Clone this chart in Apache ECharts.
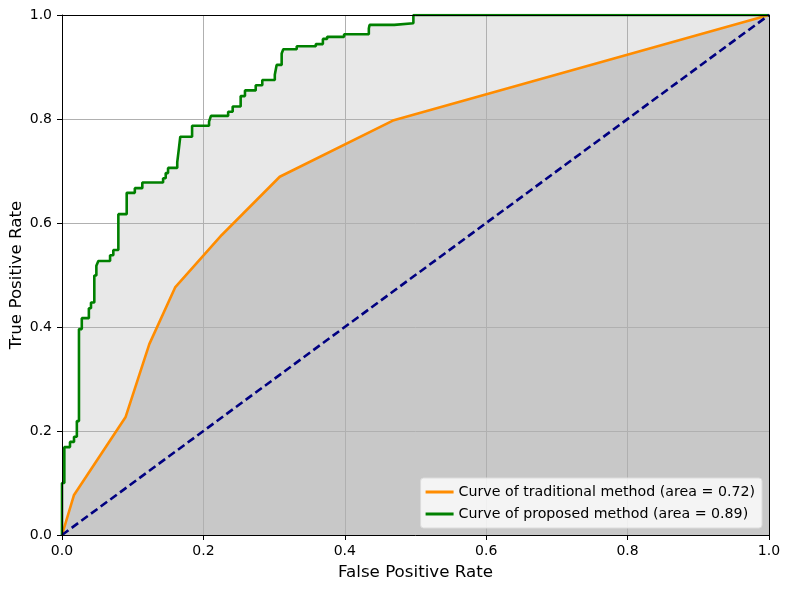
<!DOCTYPE html>
<html>
<head>
<meta charset="utf-8">
<script src="https://cdn.jsdelivr.net/npm/echarts@6/dist/echarts.min.js"></script>
<style>
  html, body { margin: 0; padding: 0; background: #fff; }
  #chart { width: 790px; height: 589px; }
</style>
</head>
<body>
<div id="chart"></div>
<script>
// ROC curves, points as [fpr, tpr]
var traditionalName = 'Curve of traditional method (area = 0.72)';
var proposedName = 'Curve of proposed method (area = 0.89)';

var traditionalRoc = [
    [0, 0], [0.017, 0.077], [0.09, 0.227], [0.1235, 0.367], [0.16, 0.476],
    [0.226, 0.577], [0.308, 0.689], [0.468, 0.797], [1, 1]
];

// each point is the top of a vertical jump (drawn with step: 'end')
var proposedRoc = [
    [0, 0], [0, 0.1], [0.0033, 0.169], [0.0113, 0.179], [0.017, 0.189],
    [0.021, 0.219], [0.024, 0.396], [0.028, 0.417], [0.038, 0.436], [0.041, 0.447],
    [0.0457, 0.499], [0.0486, 0.518], [0.0514, 0.527], [0.068, 0.538], [0.0726, 0.548],
    [0.0797, 0.617], [0.0915, 0.658], [0.103, 0.667], [0.1136, 0.678], [0.143, 0.686],
    [0.1467, 0.696], [0.150, 0.706], [0.163, 0.717], [0.1655, 0.745], [0.1673, 0.766],
    [0.184, 0.787], [0.208, 0.795], [0.2107, 0.806], [0.235, 0.814], [0.2414, 0.824],
    [0.2527, 0.844], [0.2588, 0.855], [0.274, 0.865], [0.2833, 0.875], [0.301, 0.885],
    [0.3036, 0.904], [0.3107, 0.926], [0.313, 0.934], [0.332, 0.940], [0.359, 0.944],
    [0.369, 0.954], [0.375, 0.958], [0.399, 0.963], [0.434, 0.974], [0.435, 0.981],
    [0.470, 0.984], [0.497, 1.0], [1.0, 1.0]
];

var chanceLine = [[0, 0], [1, 1]];

var FONT = 'DejaVu Sans';

function fmt(v) {
    return v.toFixed(1);
}

var chart = echarts.init(document.getElementById('chart'));

// axis with labels + black spine, drawn above everything
function mainAxis(pos, name, gap) {
    return {
        type: 'value',
        position: pos,
        min: 0,
        max: 1,
        interval: 0.2,
        z: 10,
        name: name,
        nameLocation: 'middle',
        nameGap: gap,
        nameMoveOverlap: false,
        nameTextStyle: { fontFamily: FONT, fontSize: 16.7, color: '#000' },
        axisLine: { show: true, onZero: false, lineStyle: { color: '#000', width: 1 } },
        axisTick: { show: true, length: 5, lineStyle: { color: '#000', width: 1 } },
        axisLabel: {
            show: true,
            margin: pos == 'bottom' ? 9 : 10,
            fontFamily: FONT,
            fontSize: 14,
            color: '#000',
            formatter: fmt
        },
        splitLine: { show: false }
    };
}

// plain spine (top / right)
function borderAxis(pos) {
    return {
        type: 'value',
        position: pos,
        min: 0,
        max: 1,
        interval: 0.2,
        z: 10,
        axisLine: { show: true, onZero: false, lineStyle: { color: '#000', width: 1 } },
        axisTick: { show: false },
        axisLabel: { show: false },
        splitLine: { show: false }
    };
}

// grid lines only: above the fills, below the curves
function gridAxis(pos) {
    return {
        type: 'value',
        position: pos,
        min: 0,
        max: 1,
        interval: 0.2,
        z: 2,
        axisLine: { show: false },
        axisTick: { show: false },
        axisLabel: { show: false },
        splitLine: { show: true, lineStyle: { color: '#b0b0b0', width: 1 } }
    };
}

function fillSeries(data, step, color) {
    return {
        name: 'fill',
        type: 'line',
        step: step,
        data: data,
        showSymbol: false,
        silent: true,
        z: 1,
        lineStyle: { width: 0, opacity: 0 },
        areaStyle: { color: color, opacity: 1, origin: 'start' }
    };
}

function curveSeries(name, data, step, color, dash) {
    return {
        name: name,
        type: 'line',
        step: step,
        data: data,
        showSymbol: false,
        z: 5,
        lineStyle: { color: color, width: 2.6, type: dash },
        itemStyle: { color: color }
    };
}

var op = {
    animation: false,
    backgroundColor: '#fff',
    grid: {
        left: 62,
        right: 21,
        top: 15,
        bottom: 54,
        outerBoundsMode: 'none',
        containLabel: false
    },
    legend: {
        orient: 'vertical',
        right: 28,
        bottom: 61,
        padding: [7, 7, 7, 5],
        itemGap: 8,
        itemWidth: 28,
        itemHeight: 3,
        backgroundColor: 'rgba(255,255,255,0.8)',
        borderColor: '#dcdcdc',
        borderWidth: 1,
        borderRadius: 3,
        textStyle: { fontFamily: FONT, fontSize: 14.2, color: '#000' },
        data: [
            { name: traditionalName, icon: 'rect' },
            { name: proposedName, icon: 'rect' }
        ]
    },
    xAxis: [
        mainAxis('bottom', 'False Positive Rate', 29),
        borderAxis('top'),
        gridAxis('bottom')
    ],
    yAxis: [
        mainAxis('left', 'True Positive Rate', 37),
        borderAxis('right'),
        gridAxis('left')
    ],
    series: [
        fillSeries(proposedRoc, 'end', 'rgba(128,128,128,0.18)'),
        fillSeries(traditionalRoc, false, 'rgba(128,128,128,0.31)'),
        curveSeries(traditionalName, traditionalRoc, false, '#ff8c00', 'solid'),
        curveSeries(proposedName, proposedRoc, 'end', '#008000', 'solid'),
        curveSeries('chance', chanceLine, false, '#000080', [8, 4])
    ]
};

chart.setOption(op);
</script>
</body>
</html>
